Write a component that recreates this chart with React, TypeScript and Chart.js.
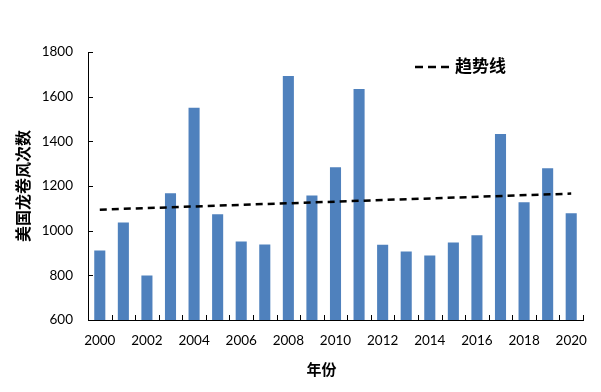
import React, { useEffect, useRef } from "react";
import { Chart, registerables } from "chart.js";

Chart.register(...registerables);

const years = ["2000","2001","2002","2003","2004","2005","2006","2007","2008","2009","2010","2011","2012","2013","2014","2015","2016","2017","2018","2019","2020"];
const tornadoCounts = [911, 1037, 799, 1168, 1550, 1073, 952, 938, 1692, 1157, 1284, 1634, 937, 907, 889, 947, 979, 1433, 1127, 1280, 1078];
const trendStart = 1094;
const trendEnd = 1166;
const trendValues = years.map((_, i) => (i === 0 ? trendStart : i === years.length - 1 ? trendEnd : null));
const yTitle = "美国龙卷风次数";
const xTitle = "年份";
const trendLabel = "趋势线";

const tickFont = { family: "Lato, 'Noto Sans', sans-serif", size: 13.5 };

const innerTicks = {
  id: "innerTicks",
  afterDraw(chart: any) {
    const ctx = chart.ctx;
    const xs = chart.scales.x;
    const ys = chart.scales.y;
    const area = chart.chartArea;
    ctx.save();
    ctx.strokeStyle = "#000";
    ctx.lineWidth = 1;
    ctx.beginPath();
    ys.ticks.forEach((t: any) => {
      const y = Math.round(ys.getPixelForValue(t.value)) + 0.5;
      ctx.moveTo(area.left, y);
      ctx.lineTo(area.left + 5, y);
    });
    for (let i = 0; i <= years.length; i++) {
      const x = Math.round(xs.getPixelForTick(0) + (i - 0.5) * (xs.getPixelForTick(1) - xs.getPixelForTick(0))) + 0.5;
      ctx.moveTo(x, area.bottom);
      ctx.lineTo(x, area.bottom - 5);
    }
    ctx.stroke();
    ctx.restore();
  },
};

const customLegend = {
  id: "customLegend",
  afterDraw(chart: any) {
    const ctx = chart.ctx;
    const area = chart.chartArea;
    const ds = chart.data.datasets[0];
    const x0 = area.left + 327;
    const y0 = area.top + 15;
    ctx.save();
    ctx.strokeStyle = "#000";
    ctx.lineWidth = 2.5;
    ctx.setLineDash([8, 5]);
    ctx.beginPath();
    ctx.moveTo(x0, y0);
    ctx.lineTo(x0 + 39, y0);
    ctx.stroke();
    ctx.setLineDash([]);
    ctx.fillStyle = "#000";
    ctx.font = "bold 17px 'Noto Sans CJK SC', sans-serif";
    ctx.textBaseline = "middle";
    ctx.textAlign = "left";
    ctx.fillText(ds.label, x0 + 40, y0 - 1);

    // x axis title, placed slightly left of the plot centre as in the original
    ctx.font = "bold 15px 'Noto Sans CJK SC', sans-serif";
    ctx.textAlign = "center";
    ctx.fillText(xTitle, (area.left + area.right) / 2 - 14, area.bottom + 49);
    ctx.restore();
  },
};

export default function App() {
  const canvasRef = useRef<HTMLCanvasElement>(null);

  useEffect(() => {
    if (!canvasRef.current) return;
    const chart = new Chart(canvasRef.current, {
      type: "bar",
      data: {
        labels: years,
        datasets: [
          {
            type: "line",
            label: trendLabel,
            data: trendValues,
            borderColor: "#000",
            borderWidth: 2.5,
            borderDash: [7, 5],
            pointRadius: 0,
            spanGaps: true,
            fill: false,
            order: 0,
          } as any,
          {
            type: "bar",
            label: "次数",
            data: tornadoCounts,
            backgroundColor: "#4F81BD",
            borderWidth: 0,
            categoryPercentage: 1,
            barPercentage: 0.47,
            order: 1,
          },
        ],
      },
      options: {
        responsive: false,
        animation: false,
        layout: { padding: { top: 52, right: 18, left: 0, bottom: 0 } },
        plugins: {
          legend: { display: false },
          tooltip: { enabled: false },
        },
        scales: {
          x: {
            offset: true,
            grid: { display: false, drawTicks: false, offset: true },
            border: { display: true, color: "#000", width: 1 },
            ticks: {
              autoSkip: false,
              maxRotation: 0,
              padding: 13,
              color: "#000",
              font: tickFont,
              callback: (_v: any, i: number) => (i % 2 === 0 ? years[i] : ""),
            },
            title: { display: false },
            afterFit: (s: any) => {
              s.height = 72;
            },
          },
          y: {
            min: 600,
            max: 1800,
            grid: { display: false, drawTicks: false },
            border: { display: true, color: "#000", width: 1 },
            ticks: {
              stepSize: 200,
              padding: 15,
              color: "#000",
              font: tickFont,
              callback: (v: any) => String(v),
            },
            title: {
              display: true,
              text: yTitle,
              color: "#000",
              font: { family: "'Noto Sans CJK SC', sans-serif", size: 16, weight: "bold" },
              padding: { top: 13, bottom: 0 },
            },
            afterFit: (s: any) => {
              s.width = 88;
            },
          },
        },
      },
      plugins: [innerTicks, customLegend],
    });
    return () => chart.destroy();
  }, []);

  return (
    <div style={{ position: "absolute", left: 0, top: 0, width: 601, height: 392, background: "#fff" }}>
      <canvas ref={canvasRef} width={601} height={392} style={{ width: 601, height: 392, display: "block" }} />
    </div>
  );
}
